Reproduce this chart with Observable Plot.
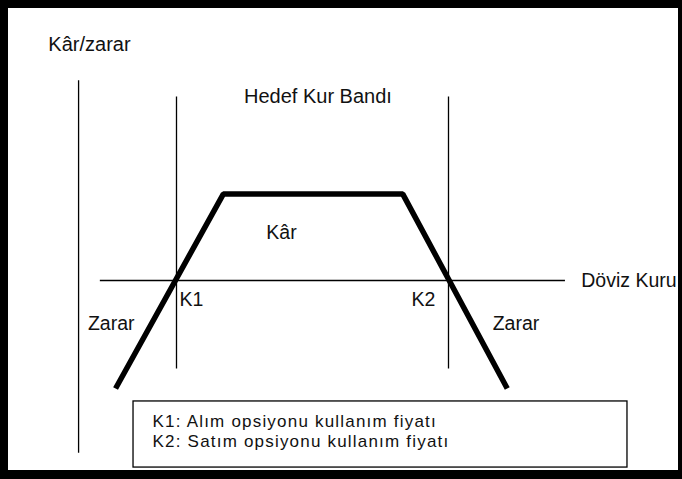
<!DOCTYPE html>
<html><head><meta charset="utf-8">
<script src="https://cdn.jsdelivr.net/npm/d3@7"></script>
<script src="https://cdn.jsdelivr.net/npm/@observablehq/plot@0.6"></script>
<style>
html,body{margin:0;padding:0;background:#fff;}
#frame{box-sizing:border-box;width:682px;height:479px;border-style:solid;border-color:#000;border-width:8px 4px 9px 8px;background:#fff;overflow:hidden;}
#frame svg{display:block;font-family:"Liberation Sans",Arial,sans-serif;}
</style></head><body><div id="frame"></div>
<script>
// Payoff profile (exchange rate vs profit/loss), abstract units
const payoffRate = [4.4, 14.3, 30.8, 40.4];
const payoffPL   = [-5, 4, 4, -5];
// Strike prices
const strikeNames = ["K1", "K2"];
const strikeRates = [10, 35];
// Region labels
const regionLabels = ["Kâr", "Zarar", "Zarar"];
const regionRates  = [19.65, 4, 41.2];
const regionPL     = [2.2, -2, -2];
// Legend lines
const legendLines = ["K1: Alım opsiyonu kullanım fiyatı", "K2: Satım opsiyonu kullanım fiyatı"];
const legendPL = [-6.55, -7.45];

const payoff = payoffRate.map((x, i) => ({x, y: payoffPL[i]}));
const strikes = strikeNames.map((label, i) => ({label, x: strikeRates[i]}));
const regions = regionLabels.map((label, i) => ({label, x: regionRates[i], y: regionPL[i]}));
const legend = legendLines.map((label, i) => ({label, y: legendPL[i]}));

const thin = 1.3;
const chart = Plot.plot({
  width: 670, height: 462,
  marginLeft: 59.2, marginRight: 66.8, marginTop: 12.8, marginBottom: 1,
  x: {domain: [0, 50], axis: null},
  y: {domain: [-8.75, 12], axis: null},
  style: {background: "#fff", color: "#000", fontFamily: "'Liberation Sans', Arial, sans-serif", overflow: "visible"},
  marks: [
    // vertical (profit/loss) axis
    Plot.ruleX([1], {y1: -8, y2: 9.25, stroke: "#000", strokeWidth: thin}),
    Plot.text(["Kâr/zarar"], {x: 2, y: 10.9, text: d => d, fontSize: 20, fill: "#111"}),
    // strike lines
    Plot.ruleX(strikes, {x: "x", y1: -4.1, y2: 8.5, stroke: "#000", strokeWidth: thin}),
    Plot.text(["Hedef Kur Bandı"], {x: 23, y: 8.5, text: d => d, fontSize: 20, fill: "#111"}),
    // horizontal (exchange rate) axis
    Plot.ruleY([0], {x1: 3, x2: 45.75, stroke: "#000", strokeWidth: thin}),
    Plot.text(["Döviz Kuru"], {x: 47.2, y: 0, text: d => d, fontSize: 19.5, textAnchor: "start", fill: "#111"}),
    // payoff
    Plot.line(payoff, {x: "x", y: "y", stroke: "#000", strokeWidth: 5.5, strokeLinejoin: "miter", strokeLinecap: "butt"}),
    // labels
    Plot.text(regions, {x: "x", y: "y", text: "label", fontSize: 19.5, fill: "#111"}),
    Plot.text(strikes.slice(0, 1), {x: d => d.x + 0.28, y: -0.88, text: "label", fontSize: 19.5, textAnchor: "start", fill: "#111"}),
    Plot.text(strikes.slice(1), {x: d => d.x - 1.2, y: -0.88, text: "label", fontSize: 19.5, textAnchor: "end", fill: "#111"}),
    // legend box
    Plot.rect([0], {x1: 6.05, x2: 51.45, y1: -8.66, y2: -5.6, fill: "#fff", stroke: "#000", strokeWidth: thin}),
    Plot.text(legend, {x: 7.8, y: "y", text: "label", fontSize: 17, textAnchor: "start", fill: "#111"})
  ]
});
d3.select(chart).selectAll("text").filter(function() {
  return /^K[12]:/.test(this.textContent);
}).style("letter-spacing", "1.2px");
document.getElementById("frame").appendChild(chart);
</script>
</body></html>
